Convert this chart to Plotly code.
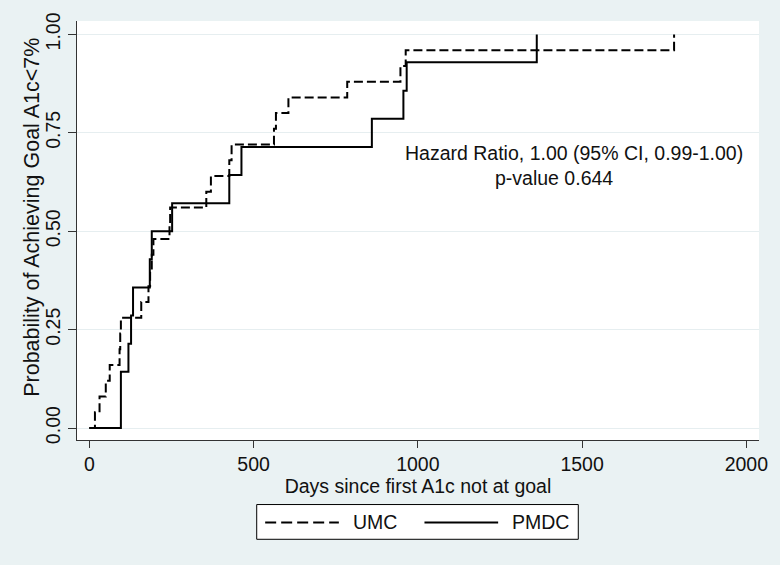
import plotly.graph_objects as go

# ---- data ----
umc_days = [0, 17, 31, 50, 62, 92, 94, 96, 158, 180, 185, 190, 195, 244, 246,
            356, 370, 426, 433, 562, 568, 606, 785, 947, 963, 1780]
umc_prob = [0.00, 0.04, 0.08, 0.12, 0.16, 0.20, 0.24, 0.28, 0.32, 0.36, 0.40,
            0.44, 0.48, 0.52, 0.56, 0.60, 0.64, 0.68, 0.72, 0.76, 0.80, 0.84,
            0.88, 0.92, 0.96, 1.00]

pmdc_days = [0, 96, 119, 127, 133, 184, 190, 252, 426, 463, 860, 956, 966, 1362]
pmdc_prob = [0.000, 0.143, 0.214, 0.286, 0.357, 0.429, 0.500, 0.571, 0.643,
             0.714, 0.786, 0.857, 0.929, 1.000]

x_ticks = [0, 500, 1000, 1500, 2000]
y_ticks = [0.00, 0.25, 0.50, 0.75, 1.00]
y_tick_text = ["0.00", "0.25", "0.50", "0.75", "1.00"]

series_names = ["UMC", "PMDC"]
hr_text = "Hazard Ratio, 1.00 (95% CI, 0.99-1.00)"
p_text = "p-value 0.644"
x_title = "Days since first A1c not at goal"
y_title = "Probability of Achieving Goal A1c<7%"

# ---- layout geometry ----
W, H = 780, 565
ML, MR, MT, MB = 77, 18, 18, 125
PW, PH = W - ML - MR, H - MT - MB
FONT = "Liberation Sans, Arial, sans-serif"
FS = 19.5
BG = "#EAF2F3"
TXT = "#111"


def px2paper_x(px):
    return (px - ML) / PW


def px2paper_y(py):
    return (H - MB - py) / PH


fig = go.Figure()
fig.add_trace(go.Scatter(x=umc_days, y=umc_prob, mode="lines", line_shape="hv",
                         name=series_names[0], showlegend=False,
                         line=dict(color="black", width=2, dash="9px,4px")))
fig.add_trace(go.Scatter(x=pmdc_days, y=pmdc_prob, mode="lines", line_shape="hv",
                         name=series_names[1], showlegend=False,
                         line=dict(color="black", width=2)))

# statistics text
fig.add_annotation(x=1476, y=0.699, xref="x", yref="y", text=hr_text,
                   showarrow=False, xanchor="center", yanchor="middle",
                   font=dict(family=FONT, size=FS, color=TXT))
fig.add_annotation(x=1414, y=0.636, xref="x", yref="y", text=p_text,
                   showarrow=False, xanchor="center", yanchor="middle",
                   font=dict(family=FONT, size=FS, color=TXT))

# y axis title (placed as rotated text to match reference position/extent)
fig.add_annotation(x=px2paper_x(31), y=px2paper_y(216), xref="paper", yref="paper",
                   text=y_title, textangle=-90, showarrow=False,
                   xanchor="center", yanchor="middle",
                   font=dict(family=FONT, size=21.5, color=TXT))

# legend (drawn manually to match the wide line samples)
fig.add_shape(type="rect", xref="paper", yref="paper",
              x0=px2paper_x(257.5), x1=px2paper_x(580.5),
              y0=px2paper_y(540), y1=px2paper_y(505),
              line=dict(color="black", width=1), fillcolor="white", layer="above")
ly = px2paper_y(523)
fig.add_shape(type="line", xref="paper", yref="paper",
              x0=px2paper_x(266), x1=px2paper_x(340), y0=ly, y1=ly,
              line=dict(color="black", width=2, dash="11px,5px"))
fig.add_shape(type="line", xref="paper", yref="paper",
              x0=px2paper_x(426), x1=px2paper_x(500), y0=ly, y1=ly,
              line=dict(color="black", width=2))
fig.add_annotation(x=px2paper_x(352), y=ly, xref="paper", yref="paper",
                   text=series_names[0], showarrow=False, xanchor="left",
                   yanchor="middle", font=dict(family=FONT, size=FS, color=TXT))
fig.add_annotation(x=px2paper_x(512), y=ly, xref="paper", yref="paper",
                   text=series_names[1], showarrow=False, xanchor="left",
                   yanchor="middle", font=dict(family=FONT, size=FS, color=TXT))

fig.update_layout(
    width=W, height=H,
    margin=dict(l=ML, r=MR, t=MT, b=MB, pad=0),
    paper_bgcolor=BG, plot_bgcolor="white",
    font=dict(family=FONT, size=FS, color=TXT),
    showlegend=False,
)
fig.update_xaxes(
    range=[-37.6, 2038.5], tickvals=x_ticks, ticks="outside", ticklen=7,
    tickcolor="#333", showline=True, linecolor="#333", linewidth=1,
    showgrid=False, zeroline=False,
    title=dict(text=x_title, standoff=0, font=dict(size=FS)),
    tickfont=dict(size=FS),
)
fig.update_yaxes(
    range=[-0.0303, 1.034], tickvals=y_ticks, ticktext=y_tick_text,
    ticks="outside", ticklen=8, tickangle=-90, tickcolor="#333",
    showline=True, linecolor="#333", linewidth=1,
    showgrid=True, gridcolor="#E6EEF0", gridwidth=1, zeroline=False,
    tickfont=dict(size=FS),
)

fig.write_html("out.html",
               config={"displayModeBar": False},
               post_script="document.body.style.margin='0';document.body.style.overflow='hidden';")
